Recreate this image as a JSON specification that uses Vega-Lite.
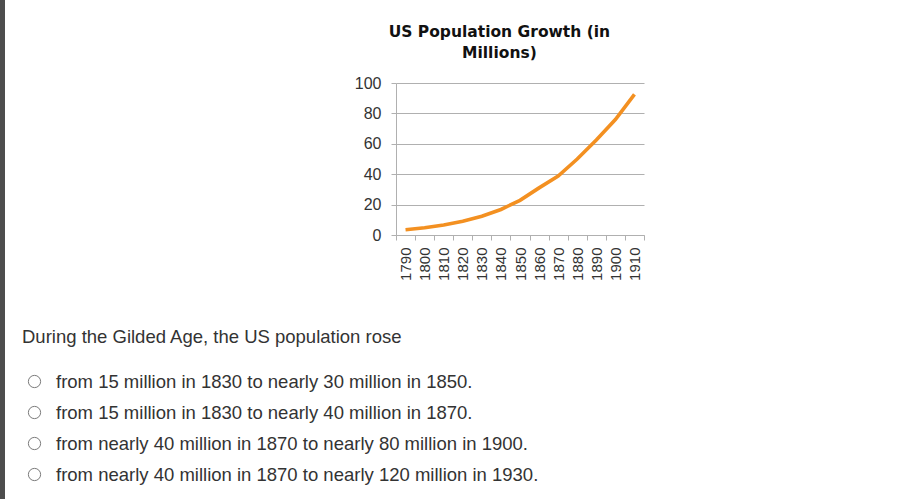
{
  "$schema": "https://vega.github.io/schema/vega-lite/v6.json",
  "padding": 0,
  "background": "white",
  "config": {"view": {"stroke": null}},
  "hconcat": [
    {
      "width": 5,
      "height": 499,
      "view": {"fill": "#4d4d4d", "stroke": null},
      "data": {"values": [{"k": 1}]},
      "mark": {"type": "point", "size": 0, "opacity": 0},
      "encoding": {}
    },
    {
      "spacing": 46,
      "vconcat": [
        {
          "spacing": 0,
          "vconcat": [
            {
              "width": 1,
              "height": 24,
              "data": {"values": [{"k": 1}]},
              "mark": {"type": "point", "size": 0, "opacity": 0},
              "encoding": {}
            },
            {
              "spacing": 0,
              "hconcat": [
                {
                  "width": 332,
                  "height": 1,
                  "data": {"values": [{"k": 1}]},
                  "mark": {"type": "point", "size": 0, "opacity": 0},
                  "encoding": {}
                },
                {
                  "width": 248,
                  "height": 152,
                  "title": {
                    "text": ["US Population Growth (in", "Millions)"],
                    "font": "DejaVu Sans",
                    "fontSize": 15.5,
                    "fontWeight": "bold",
                    "color": "#111111",
                    "lineHeight": 21,
                    "anchor": "middle",
                    "frame": "bounds",
                    "offset": 14
                  },
                  "data": {
                    "values": [
                      {"year": 1790, "pop": 3.5},
                      {"year": 1800, "pop": 4.8},
                      {"year": 1810, "pop": 6.6},
                      {"year": 1820, "pop": 9.0},
                      {"year": 1830, "pop": 12.3},
                      {"year": 1840, "pop": 16.8},
                      {"year": 1850, "pop": 22.8},
                      {"year": 1860, "pop": 31.0},
                      {"year": 1870, "pop": 38.8},
                      {"year": 1880, "pop": 50.0},
                      {"year": 1890, "pop": 62.5},
                      {"year": 1900, "pop": 76.0},
                      {"year": 1910, "pop": 92.5}
                    ]
                  },
                  "mark": {"type": "line", "color": "#F39021", "strokeWidth": 3.6},
                  "encoding": {
                    "x": {
                      "field": "year",
                      "type": "ordinal",
                      "scale": {"type": "band", "paddingInner": 0, "paddingOuter": 0},
                      "axis": {
                        "title": null,
                        "labelAngle": 270,
                        "tickBand": "extent",
                        "tickSize": 5,
                        "tickColor": "#b0b0b0",
                        "domainColor": "#b0b0b0",
                        "labelFont": "Liberation Sans",
                        "labelFontSize": 15,
                        "labelColor": "#333333",
                        "labelPadding": 7,
                        "grid": false
                      }
                    },
                    "y": {
                      "field": "pop",
                      "type": "quantitative",
                      "scale": {"domain": [0, 100], "nice": false},
                      "axis": {
                        "title": null,
                        "values": [0, 20, 40, 60, 80, 100],
                        "grid": true,
                        "gridColor": "#b0b0b0",
                        "tickColor": "#b0b0b0",
                        "domainColor": "#b0b0b0",
                        "tickSize": 5,
                        "labelPadding": 10,
                        "labelFont": "Liberation Sans",
                        "labelFontSize": 16,
                        "labelColor": "#333333"
                      }
                    }
                  }
                }
              ]
            }
          ]
        },
        {
          "width": 25,
          "height": 124,
          "title": {
            "text": "During the Gilded Age, the US population rose",
            "anchor": "start",
            "frame": "group",
            "font": "Liberation Sans",
            "fontSize": 18.5,
            "fontWeight": "normal",
            "color": "#333333",
            "offset": 20
          },
          "data": {
            "values": [
              {"option": "from 15 million in 1830 to nearly 30 million in 1850."},
              {"option": "from 15 million in 1830 to nearly 40 million in 1870."},
              {"option": "from nearly 40 million in 1870 to nearly 80 million in 1900."},
              {"option": "from nearly 40 million in 1870 to nearly 120 million in 1930."}
            ]
          },
          "mark": {"type": "point", "shape": "circle", "size": 150, "filled": false, "stroke": "#7a7a7a", "strokeWidth": 1, "opacity": 1},
          "encoding": {
            "y": {
              "field": "option",
              "type": "nominal",
              "sort": null,
              "scale": {"type": "point", "padding": 0.5},
              "axis": {
                "orient": "right",
                "title": null,
                "domain": false,
                "ticks": false,
                "labelPadding": 8.5,
                "labelLimit": 0,
                "labelAlign": "left",
                "labelFont": "Liberation Sans",
                "labelFontSize": 18.5,
                "labelColor": "#333333"
              }
            }
          }
        }
      ]
    }
  ],
  "spacing": 17
}
